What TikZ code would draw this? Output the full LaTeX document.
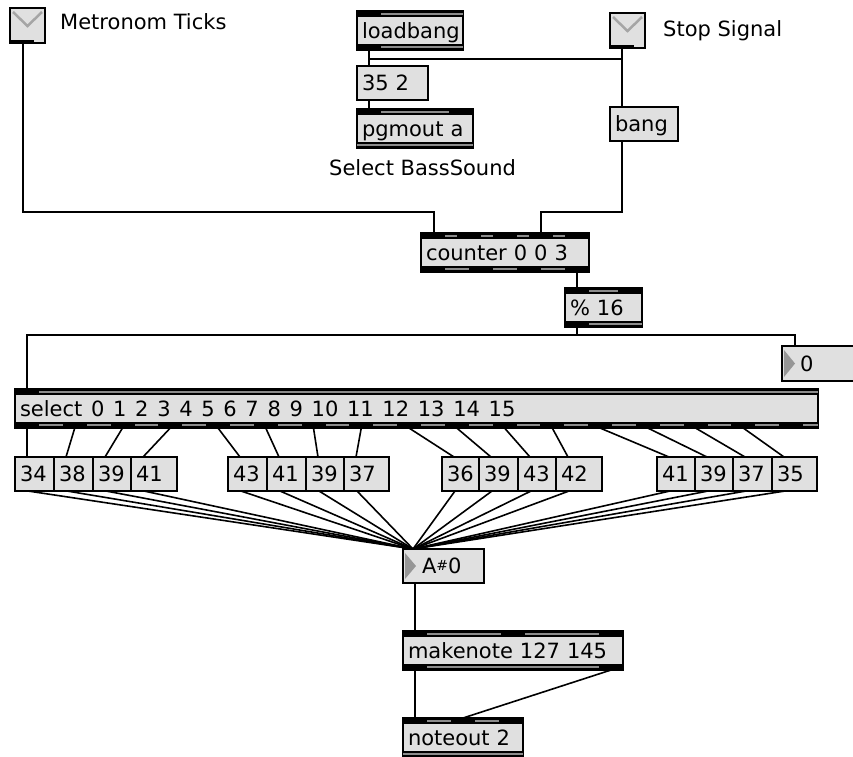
\documentclass[tikz,border=0pt]{standalone}
\usepackage{fontspec}
\setmainfont{DejaVu Sans}
\usepackage{xcolor}
\usepackage{tikz}
\usetikzlibrary{calc,positioning}
\definecolor{maxFill}{RGB}{224,224,224}
\definecolor{maxBand}{RGB}{140,140,140}
\definecolor{maxCheck}{RGB}{165,165,165}
\definecolor{maxTri}{RGB}{150,150,150}

\tikzset{
  maxbase/.style={draw=black, fill=maxFill, line width=1.2pt, anchor=north west,
    inner xsep=5pt, inner ysep=0pt, outer sep=0pt, align=left,
    text height=15pt, text depth=0pt},
  objbox/.style={maxbase},
  msgbox/.style={maxbase},
  numbox/.style={maxbase},
  togglebox/.style={draw=black, fill=maxFill, line width=1.2pt, anchor=north west,
    minimum size=35pt, inner sep=0pt, outer sep=0pt},
  comment/.style={anchor=west, inner sep=0pt, text height=15pt, text depth=0pt},
  cord/.style={black, line width=1.6pt},
}

% box: style, name, x, y, width, height, text
\newcommand{\maxbox}[7]{%
  \pgfmathsetmacro{\maxtw}{#5-10}%
  \node[#1, minimum height=#6pt, text width=\maxtw pt] (#2) at (#3,#4) {#7};
}
% port bands: node, width, count, spacing
\newcommand{\inlets}[4]{%
  \fill[black] (#1.north west) rectangle ++(#2,6);
  \fill[maxBand] ($(#1.north west)+(0,2)$) rectangle ++(#2,2.2);
  \ifnum#3>0
    \foreach \k in {1,...,#3}
      {\fill[black] ($(#1.north west)+({(\k-1)*#4},0)$) rectangle ++(24,6);}
  \fi
}
\newcommand{\outlets}[4]{%
  \fill[black] (#1.south west) rectangle ++(#2,-6);
  \fill[maxBand] ($(#1.south west)+(0,-2)$) rectangle ++(#2,-2.2);
  \ifnum#3>0
    \foreach \k in {1,...,#3}
      {\fill[black] ($(#1.south west)+({(\k-1)*#4},0)$) rectangle ++(24,-6);}
  \fi
}

\begin{document}
\begin{tikzpicture}[x=1pt,y=-1pt,font=\fontsize{21}{25}\selectfont]

\fill[white] (0,0) rectangle (853,756);
\useasboundingbox (0,0) rectangle (853,756);

% =========================
% Top row: toggles, loadbang
% =========================
\node[togglebox] (tmetro) at (10,8) {};
\node[togglebox] (tstop) at (610,13) {};
\foreach \t in {tmetro,tstop}{
  \draw[maxCheck, line width=2.5pt] ($(\t.north west)+(3,4)$) -- ($(\t.north)+(0,18)$)
    -- ($(\t.north east)+(-3,4)$);
  \fill[black] (\t.south west) rectangle ++(24,-3);
}
\node[comment] (lmetro) at (60,21.5) {Metronom Ticks};
\node[comment] (lstop) at (663,28.5) {Stop Signal};

\maxbox{objbox}{loadbang}{357}{11}{106}{39}{loadbang}
\maxbox{msgbox}{msg352}{357}{66}{71}{34}{35 2}
\maxbox{objbox}{pgmout}{357}{109}{116}{39}{pgmout a}
\maxbox{msgbox}{bang}{610}{107}{68}{34}{bang}
\node[comment] (lbass) at (329,167.5) {Select BassSound};

\inlets{loadbang}{106}{1}{0}
\outlets{loadbang}{106}{1}{0}
\inlets{pgmout}{116}{2}{92}
\outlets{pgmout}{116}{0}{0}

% =========================
% Counter, modulo, select
% =========================
\maxbox{objbox}{counter}{421}{233}{168}{39}{counter 0 0 3}
\maxbox{objbox}{mod}{565}{288}{77}{39}{\% 16}
\maxbox{numbox}{num0}{782}{346}{80}{35}{\hspace{13pt}0}
\maxbox{objbox}{select}{15}{389}{803}{39}%
  {\spaceskip=8.7pt\relax select 0 1 2 3 4 5 6 7 8 9 10 11 12 13 14 15}

\inlets{counter}{168}{5}{36}
\outlets{counter}{168}{4}{48}
\inlets{mod}{77}{2}{53}
\outlets{mod}{77}{1}{0}
\inlets{select}{803}{1}{0}
\outlets{select}{803}{17}{47.75}

% =========================
% Note numbers
% =========================
\foreach \i/\nx/\nw/\nv in {0/15/39/34, 1/54/39/38, 2/93/38/39, 3/131/46/41,
    4/228/39/43, 5/267/39/41, 6/306/38/39, 7/344/45/37,
    8/442/37/36, 9/479/39/39, 10/518/38/43, 11/556/46/42,
    12/657/38/41, 13/695/38/39, 14/733/39/37, 15/772/45/35}
  {\maxbox{numbox}{n\i}{\nx}{457}{\nw}{34}{\nv}}

% =========================
% Output chain
% =========================
\maxbox{numbox}{note}{403}{549}{81}{34}%
  {\hspace{14pt}A\raisebox{3pt}{\fontsize{14}{14}\selectfont\#}0}
\maxbox{objbox}{makenote}{403}{631}{220}{39}{makenote 127 145}
\maxbox{objbox}{noteout}{403}{718}{120}{39}{noteout 2}

\inlets{makenote}{220}{3}{98}
\outlets{makenote}{220}{2}{196}
\inlets{noteout}{120}{3}{48}
\outlets{noteout}{120}{0}{0}

% number box arrows
\foreach \b in {note,num0}
  \fill[maxTri] ($(\b.north west)+(2,4)$) -- ($(\b.west)+(13,0)$)
    -- ($(\b.south west)+(2,-4)$) -- cycle;

% =========================
% Patch cords
% =========================
\draw[cord] ($(tmetro.south west)+(13,0)$) -- ++(0,169) -| ($(counter.north west)+(13,0)$);
\draw[cord] ($(loadbang.south west)+(12,0)$) -- ($(msg352.north west)+(12,0)$);
\draw[cord] ($(loadbang.south west)+(12,0)$) -- ++(0,9) -| ($(bang.north west)+(12,0)$);
\draw[cord] ($(tstop.south west)+(12,0)$) -- ($(bang.north west)+(12,0)$);
\draw[cord] ($(msg352.south west)+(12,0)$) -- ($(pgmout.north west)+(12,0)$);
\draw[cord] ($(bang.south west)+(12,0)$) -- ++(0,71) -| ($(counter.north west)+(120,0)$);
\draw[cord] ($(counter.south west)+(156,0)$) -- ($(mod.north west)+(12,0)$);
\draw[cord] ($(mod.south west)+(12,0)$) -- ++(0,8) -| ($(select.north west)+(12,0)$);
\draw[cord] ($(mod.south west)+(12,0)$) -- ++(0,8) -| ($(num0.north west)+(13,0)$);

% select outlets -> note numbers -> note
\foreach \i in {0,...,15}{
  \draw[cord] ($(select.south west)+({12+47.75*\i},0)$) -- ($(n\i.north west)+(12,0)$);
  \draw[cord] ($(n\i.south west)+(13,0)$) -- ($(note.north west)+(10,0)$);
}

\draw[cord] ($(note.south west)+(12,0)$) -- ($(makenote.north west)+(12,0)$);
\draw[cord] ($(makenote.south west)+(12,0)$) -- ($(noteout.north west)+(12,0)$);
\draw[cord] ($(makenote.south west)+(208,0)$) -- ($(noteout.north west)+(60,0)$);

\end{tikzpicture}
\end{document}
